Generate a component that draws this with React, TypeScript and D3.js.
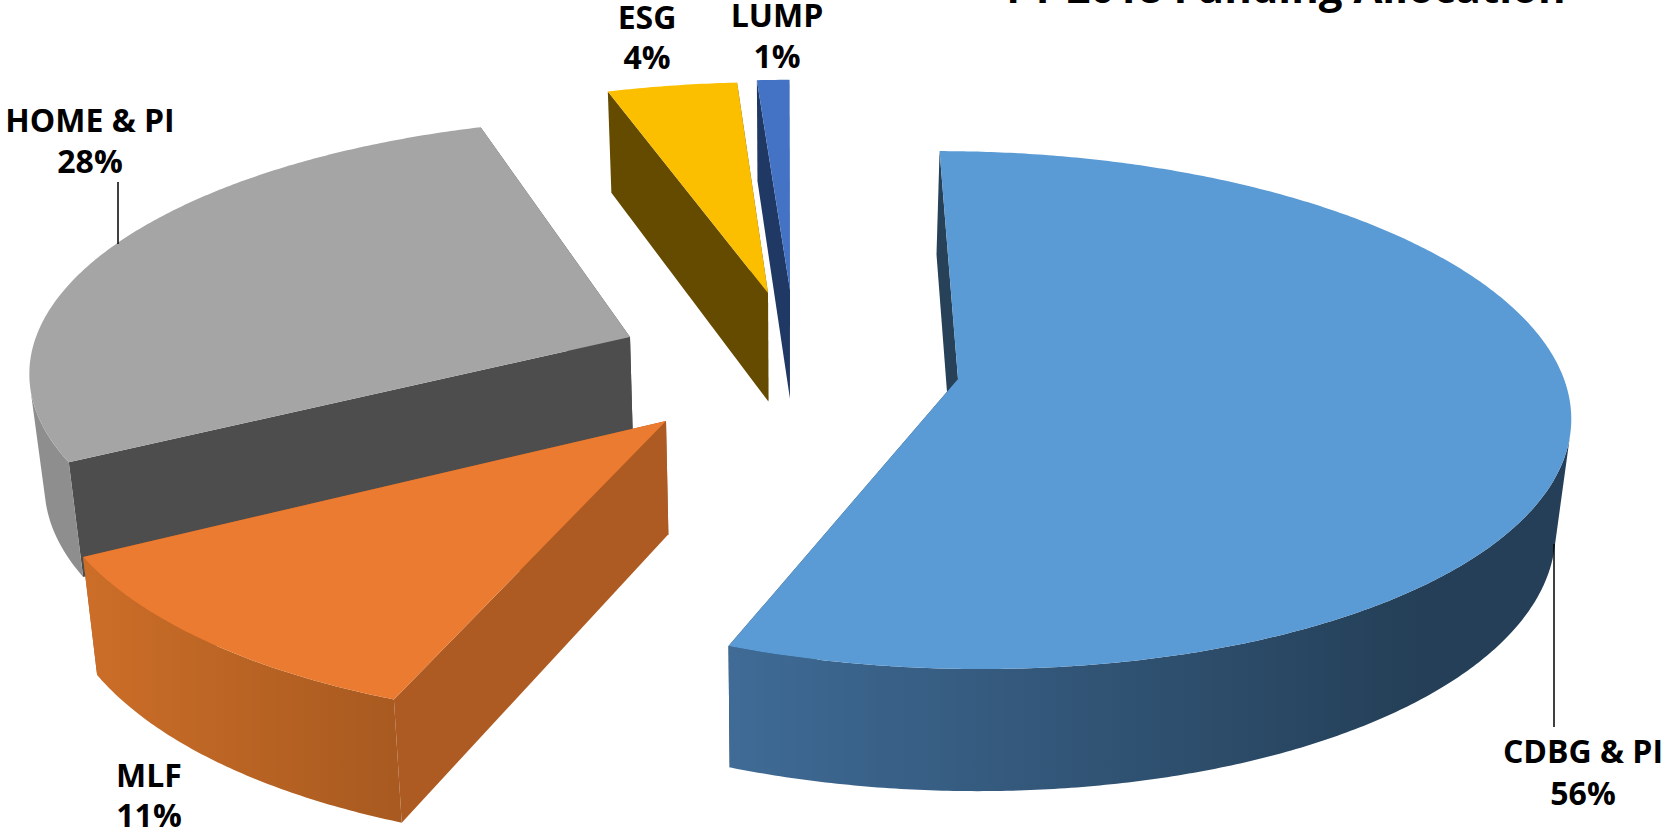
import React from "react";
import * as d3 from "d3";

// Programme shares of the allocation, in drawing order around the pie.
const programs = ["CDBG & PI", "MLF", "HOME & PI", "ESG", "LUMP"];
const shares = [56, 11, 28, 4, 1];
const titleText = "FY 2018 Funding Allocation";

// Palette per programme: top face, radial face, outer wall (shadow end, lit end).
const topColors = ["#5b9bd5", "#ea7b31", "#a5a5a5", "#fbbf00", "#4472c4"];
const faceColors = ["#264158", "#ad5b22", "#4d4d4d", "#654b00", "#1f3864"];
const wallDark = ["#243f57", "#a85a20", "#8e8e8e", "#654b00", "#1f3864"];
const wallLit = ["#3f6b96", "#cc6e28", "#939393", "#654b00", "#1f3864"];

// Where each exploded slice's tip lands on screen.
const tips: [number, number][] = [
  [958, 379],
  [666, 421],
  [630, 337],
  [768, 293],
  [790, 290],
];

const labelSpots = [
  { x: 1583, y: [763, 805] },
  { x: 149, y: [787, 827] },
  { x: 90, y: [132, 173] },
  { x: 647, y: [29, 69] },
  { x: 777, y: [27, 68] },
];

const leaders = [
  { x: 1554, y1: 544, y2: 727 },
  { x: 118, y1: 182, y2: 244 },
];

// Camera: depth lines converge on (VX, VY); PERSP is the foreshortening per unit radius.
const VX = 786;
const VY = -1748;
const G = 2127;
const B = 606;
const PERSP = 0.12;

const project = (x: number, y: number): [number, number] => {
  const w = 1 - y * PERSP;
  return [VX + (B * x) / w, VY + G / w];
};

// The pie's underside, seen slightly narrower and further down the nearer it is.
const drop = ([sx, sy]: [number, number]): [number, number] => [
  VX + (sx - VX) * 0.98,
  sy + 98 + 0.036 * sy,
];

const tipToPlane = ([ax, ay]: [number, number]): [number, number] => {
  const w = G / (ay - VY);
  return [((ax - VX) * w) / B, (1 - w) / PERSP];
};

const poly = d3.line<[number, number]>().x((p) => p[0]).y((p) => p[1]);

const arcStep = Math.PI / 360;

const arcs = d3
  .pie<number>()
  .sort(null)
  .startAngle(0)
  .endAngle(2 * Math.PI)(shares);

// Far slices first so nearer ones overlap them.
const paintOrder = [0, 4, 3, 2, 1];

function Slice({ i }: { i: number }) {
  const { startAngle, endAngle } = arcs[i];
  const [xa, ya] = tipToPlane(tips[i]);
  const at = (a: number) => project(xa + Math.sin(a), ya - Math.cos(a));
  const angles = d3.range(startAngle, endAngle, arcStep).concat(endAngle);
  const rim = angles.map(at);
  const tip = project(xa, ya);

  // Only the stretch of rim whose wall faces the viewer gets an outer wall.
  const front = rim.filter((p, k) => {
    const q = rim[k + 1] ?? p;
    const o = rim[k - 1] ?? p;
    const ex = q[0] - o[0];
    const ey = q[1] - o[1];
    const pb = drop(p);
    return ey * (pb[0] - p[0]) - ex * (pb[1] - p[1]) > 0;
  });
  const wall = [...front, ...front.map(drop).reverse()];

  // The wall's shading runs across the screen from lit (left) to shadow (right).
  const gradientId = `wall-${i}`;
  const litX = at(endAngle)[0];
  const darkX = i === 0 ? at(2.4)[0] : at(startAngle)[0];

  const radial = (end: [number, number]) => [tip, end, drop(end), drop(tip)];

  return (
    <g>
      <defs>
        <linearGradient
          id={gradientId}
          gradientUnits="userSpaceOnUse"
          x1={litX}
          x2={darkX}
          y1={0}
          y2={0}
        >
          <stop offset="0%" stopColor={wallLit[i]} />
          <stop offset="100%" stopColor={wallDark[i]} />
        </linearGradient>
      </defs>
      <path d={poly(radial(rim[0]) as [number, number][]) + "Z"} fill={faceColors[i]} />
      <path
        d={poly(radial(rim[rim.length - 1]) as [number, number][]) + "Z"}
        fill={faceColors[i]}
      />
      {front.length > 1 && (
        <path d={poly(wall as [number, number][]) + "Z"} fill={`url(#${gradientId})`} />
      )}
      <path d={poly([tip, ...rim]) + "Z"} fill={topColors[i]} />
    </g>
  );
}

export default function App() {
  return (
    <svg
      width={1666}
      height={832}
      style={{ position: "absolute", left: 0, top: 0, display: "block", background: "#fff" }}
    >
      {paintOrder.map((i) => (
        <Slice key={i} i={i} />
      ))}
      {leaders.map((l, k) => (
        <line key={k} x1={l.x} x2={l.x} y1={l.y1} y2={l.y2} stroke="#000" strokeWidth={1.5} />
      ))}
      <g fontFamily="Open Sans" fontWeight={700} fontSize={32} fill="#000" textAnchor="middle">
        {programs.map((name, i) => (
          <g key={name}>
            <text x={labelSpots[i].x} y={labelSpots[i].y[0]}>
              {name}
            </text>
            <text x={labelSpots[i].x} y={labelSpots[i].y[1]}>
              {d3.format(".0f")(shares[i])}%
            </text>
          </g>
        ))}
      </g>
      <text
        x={1286}
        y={3}
        fontFamily="Open Sans"
        fontWeight={700}
        fontSize={42}
        textAnchor="middle"
        fill="#000"
      >
        {titleText}
      </text>
    </svg>
  );
}
